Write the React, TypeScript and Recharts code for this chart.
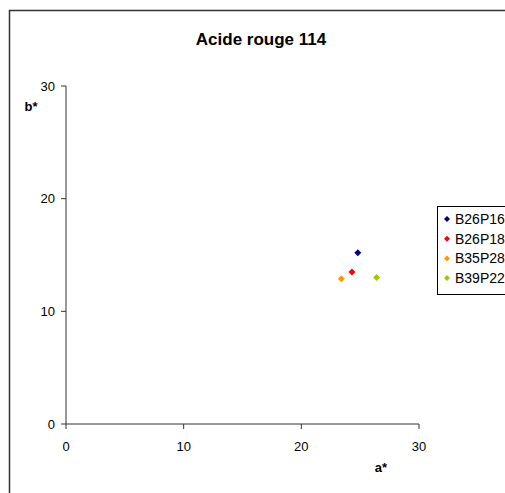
import React from 'react';
import { ScatterChart, Scatter, XAxis, YAxis } from 'recharts';

const seriesNames = ['B26P16', 'B26P18', 'B35P28', 'B39P22'];
const seriesColors = ['#000080', '#FF0000', '#FF9900', '#99CC00'];
const aValues = [24.8, 24.3, 23.4, 26.4];
const bValues = [15.2, 13.5, 12.9, 13.0];
const xTicks = [0, 10, 20, 30];
const yTicks = [0, 10, 20, 30];
const title = 'Acide rouge 114';
const xLabel = 'a*';
const yLabel = 'b*';

const FONT = '"Liberation Sans", Arial, sans-serif';

const makeDiamond = (color: string) => (props: any) => {
  const { cx, cy } = props;
  const r = 3.5;
  return (
    <polygon
      points={`${cx},${cy - r} ${cx + r},${cy} ${cx},${cy + r} ${cx - r},${cy}`}
      fill={color}
    />
  );
};

export default function App() {
  const series = seriesNames.map((name, i) => ({
    name,
    color: seriesColors[i],
    data: [{ a: aValues[i], b: bValues[i] }],
  }));
  return (
    <div style={{ position: 'absolute', left: 0, top: 0, width: 505, height: 493, overflow: 'hidden', background: '#fff' }}>
      <svg width={505} height={493} style={{ position: 'absolute', left: 0, top: 0 }}>
        <rect x={9.5} y={10.5} width={600} height={600} fill="#fff" stroke="#333" strokeWidth={1.5} />
      </svg>
      <div style={{ position: 'absolute', left: 0, top: 0 }}>
        <ScatterChart width={505} height={493} margin={{ top: 86, right: 86, bottom: 39, left: 26 }}>
          <XAxis
            type="number"
            dataKey="a"
            domain={[0, 30]}
            ticks={xTicks}
            interval={0}
            allowDataOverflow
            height={30}
            tickSize={5}
            tickMargin={13}
            axisLine={{ stroke: '#333' }}
            tickLine={{ stroke: '#333' }}
            tick={{ fill: '#000', fontSize: 13, fontFamily: FONT }}
          />
          <YAxis
            type="number"
            dataKey="b"
            domain={[0, 30]}
            ticks={yTicks}
            interval={0}
            allowDataOverflow
            width={40}
            tickSize={5}
            tickMargin={6}
            axisLine={{ stroke: '#333' }}
            tickLine={{ stroke: '#333' }}
            tick={{ fill: '#000', fontSize: 13, fontFamily: FONT }}
          />
          {series.map((s) => (
            <Scatter
              key={s.name}
              name={s.name}
              data={s.data}
              fill={s.color}
              shape={makeDiamond(s.color)}
              isAnimationActive={false}
            />
          ))}
        </ScatterChart>
      </div>
      <svg width={505} height={493} style={{ position: 'absolute', left: 0, top: 0, pointerEvents: 'none' }}>
        <text x={261} y={45} textAnchor="middle" fontFamily={FONT} fontWeight="bold" fontSize={17} fill="#000">
          {title}
        </text>
        <text x={31} y={111} textAnchor="middle" fontFamily={FONT} fontWeight="bold" fontSize={13} fill="#000">
          {yLabel}
        </text>
        <text x={381} y={472} textAnchor="middle" fontFamily={FONT} fontWeight="bold" fontSize={13} fill="#000">
          {xLabel}
        </text>
        <rect x={437.5} y={206.5} width={100} height={88} fill="#fff" stroke="#000" strokeWidth={1} />
        {series.map((s, i) => {
          const cy = 219 + 19.7 * i;
          const r = 3;
          return (
            <g key={s.name}>
              <polygon
                points={`447,${cy - r} ${447 + r},${cy} 447,${cy + r} ${447 - r},${cy}`}
                fill={s.color}
              />
              <text x={455} y={cy + 5} fontFamily={FONT} fontSize={14} fill="#000">
                {s.name}
              </text>
            </g>
          );
        })}
      </svg>
    </div>
  );
}
